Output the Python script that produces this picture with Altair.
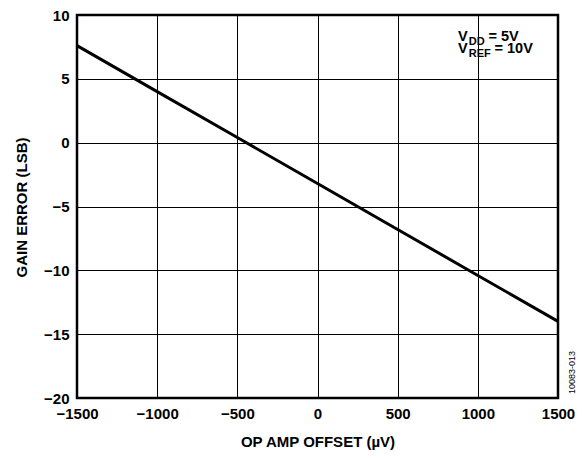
import altair as alt
import pandas as pd

offset_uv = [-1500, -1000, -500, 0, 500, 1000, 1500]
gain_err = [7.6, 4.0, 0.4, -3.2, -6.8, -10.4, -14.0]

x_ticks = [-1500, -1000, -500, 0, 500, 1000, 1500]
y_ticks = [-20, -15, -10, -5, 0, 5, 10]

ann_text = ["V", "DD", "= 5V", "V", "REF", "= 10V"]
ann_x = [876, 943, 1066, 876, 943, 1104]
ann_y = [8.29, 7.9, 8.29, 7.33, 6.94, 7.33]
ann_size = [14.5, 11, 14.5, 14.5, 11, 14.5]

df = pd.DataFrame({"x": offset_uv, "y": gain_err})
ann = pd.DataFrame({"t": ann_text, "x": ann_x, "y": ann_y, "s": ann_size})
code = pd.DataFrame({"t": ["10083-013"], "x": [1500], "y": [-18.0]})

FONT = "Liberation Sans"
xs = alt.Scale(domain=[-1500, 1500], nice=False)
ys = alt.Scale(domain=[-20, 10], nice=False)

line = alt.Chart(df).mark_line(color="black", strokeWidth=3).encode(
    x=alt.X("x:Q", scale=xs, axis=alt.Axis(
        values=x_ticks, format="d", title="OP AMP OFFSET (µV)", grid=True, gridColor="black",
        gridOpacity=1, gridWidth=1, ticks=False, domain=False,
        labelFont=FONT, labelFontWeight="bold", labelFontSize=15, labelColor="black",
        labelPadding=8, labelFlush=False,
        labelExpr="replace(datum.label, '-', '–')",
        titleFont=FONT, titleFontWeight="bold", titleFontSize=15, titleColor="black",
        titleY=36)),
    y=alt.Y("y:Q", scale=ys, axis=alt.Axis(
        values=y_ticks, format="d", title="GAIN ERROR (LSB)", grid=True, gridColor="black",
        gridOpacity=1, gridWidth=1, ticks=False, domain=False,
        labelFont=FONT, labelFontWeight="bold", labelFontSize=15, labelColor="black",
        labelPadding=8, labelFlush=False,
        labelExpr="replace(datum.label, '-', '–')",
        titleFont=FONT, titleFontWeight="bold", titleFontSize=15, titleColor="black",
        titleX=-48, titleY=192)),
)

text = alt.Chart(ann).mark_text(
    font=FONT, fontWeight="bold", align="left", baseline="middle", color="black"
).encode(x=alt.X("x:Q", scale=xs), y=alt.Y("y:Q", scale=ys),
         text="t:N", size=alt.Size("s:Q", scale=None, legend=None))

code_t = alt.Chart(code).mark_text(
    font=FONT, fontSize=9, angle=270, align="center", baseline="middle",
    color="black", dy=14
).encode(x=alt.X("x:Q", scale=xs), y=alt.Y("y:Q", scale=ys), text="t:N")

chart = alt.layer(line, text, code_t).properties(
    width=481, height=383,
    autosize=alt.AutoSizeParams(type="none"),
    padding={"left": 69, "top": 7, "right": 20, "bottom": 52},
).configure_view(stroke="black", strokeWidth=2.5)

chart.save("out.html", embed_options={"renderer": "svg", "actions": False})
